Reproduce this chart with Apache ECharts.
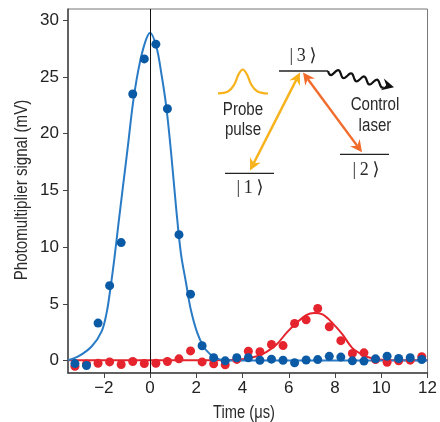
<!DOCTYPE html>
<html>
<head>
<meta charset="utf-8">
<script src="https://cdn.jsdelivr.net/npm/echarts@6/dist/echarts.min.js"></script>
<style>
  html, body { margin: 0; padding: 0; background: #fff; }
  #chart { width: 440px; height: 422px; }
</style>
</head>
<body>
<div id="chart"></div>
<script>
// measured points (time in us, signal in mV)
var times = [-3.25, -2.75, -2.25, -1.75, -1.25, -0.75, -0.25, 0.25, 0.75, 1.25, 1.75, 2.25, 2.75, 3.25, 3.75,
  4.25, 4.75, 5.25, 5.75, 6.25, 6.75, 7.25, 7.75, 8.25, 8.75, 9.25, 9.75, 10.25, 10.75, 11.25, 11.75];
var probeVals = [-0.27, -0.44, 3.3, 6.6, 10.4, 23.5, 26.6, 27.9, 22.2, 11.1, 5.85, 1.3, 0.25, -0.03, 0.24,
  0.24, 0.02, 0.12, 0.02, -0.2, 0.05, 0.08, 0.37, 0.3, -0.03, -0.05, 0.15, 0.38, 0.18, 0.24, 0.09];
var retrievedVals = [-0.5, -0.3, -0.24, -0.12, -0.35, -0.09, -0.26, -0.24, -0.09, 0.15, 0.85, -0.12, -0.28, -0.38, 0.1,
  0.82, 0.77, 1.41, 1.32, 3.27, 3.59, 4.59, 2.97, 1.75, 0.63, 0.68, 0.09, -0.15, -0.03, 0.03, 0.33];

// fitted curves
var probeFitT = [-3.55, -3.09, -2.52, -2.09, -1.88, -1.74, -1.55, -1.38, -1.17, -0.96, -0.74, -0.5, -0.24, 0,
  0.27, 0.48, 0.7, 0.91, 1.12, 1.33, 1.55, 1.76, 2.05, 2.4, 2.83, 3.25, 3.8, 5, 12];
var probeFitV = [0.03, 0.38, 1.26, 2.6, 4.2, 6.0, 8.9, 11.85, 15.4, 18.9, 22.7, 25.7, 27.9, 28.9,
  27.7, 25.4, 22.4, 18.3, 13.6, 9.5, 6.9, 4.5, 2.4, 0.97, 0.24, 0.03, 0, 0, 0];
var retrFitT = [-3.55, 0, 3.2, 4.0, 4.62, 5.04, 5.47, 5.9, 6.33, 6.75, 7.1, 7.46, 7.89, 8.32, 8.74, 9.17, 9.6, 10.2, 11, 12];
var retrFitV = [0.03, 0.03, 0.03, 0.12, 0.38, 0.77, 1.41, 2.44, 3.3, 4.0, 4.2, 4.06, 3.3, 2.3, 1.12, 0.53, 0.2, 0.05, 0.03, 0.03];

var xTicks = [-2, 0, 2, 4, 6, 8, 10, 12];
var yTicks = [0, 5, 10, 15, 20, 25, 30];

function pairs(a, b) {
  var out = [];
  for (var i = 0; i < a.length; i++) out.push([a[i], b[i]]);
  return out;
}

var FONT = "'Liberation Sans', Arial, sans-serif";
var KET = "'Liberation Serif', 'DejaVu Serif', serif";
var BLUE_DOT = '#0b5aa6', BLUE_LINE = '#2a7bc6', RED = '#e5242e';
var YEL = '#f7b21c', ORG = '#f26b2b';

// arrow head as polygon, tip at (x2,y2) pointing from (x1,y1)
function head(x1, y1, x2, y2, color) {
  var dx = x2 - x1, dy = y2 - y1, L = Math.sqrt(dx * dx + dy * dy);
  var ux = dx / L, uy = dy / L, px = -uy, py = ux;
  var len = 12, w = 6, notch = 8;
  return {
    type: 'polygon', z: 10,
    shape: { points: [
      [x2, y2],
      [x2 - ux * len + px * w, y2 - uy * len + py * w],
      [x2 - ux * notch, y2 - uy * notch],
      [x2 - ux * len - px * w, y2 - uy * len - py * w]
    ] },
    style: { fill: color }
  };
}
function dblArrow(x1, y1, x2, y2, color) {
  var dx = x2 - x1, dy = y2 - y1, L = Math.sqrt(dx * dx + dy * dy);
  var ux = dx / L, uy = dy / L;
  return [
    { type: 'line', z: 9, shape: { x1: x1 + ux * 8, y1: y1 + uy * 8, x2: x2 - ux * 8, y2: y2 - uy * 8 },
      style: { stroke: color, lineWidth: 2.4 } },
    head(x2, y2, x1, y1, color),
    head(x1, y1, x2, y2, color)
  ];
}
function wave(x1, y1, x2, y2) {
  var dx = x2 - x1, dy = y2 - y1, L = Math.sqrt(dx * dx + dy * dy);
  var ux = dx / L, uy = dy / L, px = -uy, py = ux;
  var pts = [];
  for (var s = 0; s <= L; s += 1) {
    var a = 3.3 * Math.sin(s / 13.3 * 2 * Math.PI);
    pts.push([x1 + ux * s + px * a, y1 + uy * s + py * a]);
  }
  return pts;
}

// condensed look: squeeze Liberation Sans horizontally
function txt(x, y, s, opts, extra) {
  return Object.assign({
    type: 'text', x: x, y: y, z: 12, scaleX: 0.84,
    style: Object.assign({ text: s, font: '18px ' + FONT, fill: '#2a2a2a', align: 'center', verticalAlign: 'middle' }, opts || {})
  }, extra || {});
}

var graphics = [
  // axis titles
  txt(22, 190, 'Photomultiplier signal (mV)', { font: '18px ' + FONT }, { rotation: Math.PI / 2 }),
  txt(244, 413, 'Time (\u03bcs)', { font: '17.5px ' + FONT }),
  // energy levels
  { type: 'line', shape: { x1: 279, y1: 71, x2: 328, y2: 71 }, style: { stroke: '#222', lineWidth: 1.3 } },
  { type: 'line', shape: { x1: 225, y1: 173.3, x2: 274, y2: 173.3 }, style: { stroke: '#222', lineWidth: 1.3 } },
  { type: 'line', shape: { x1: 340, y1: 154.3, x2: 389, y2: 154.3 }, style: { stroke: '#222', lineWidth: 1.3 } },
  txt(303, 56, '|\u20093\u2009\u27e9', { font: '18px ' + KET }, { scaleX: 1 }),
  txt(250, 188, '|\u20091\u2009\u27e9', { font: '18px ' + KET }, { scaleX: 1 }),
  txt(366, 170, '|\u20092\u2009\u27e9', { font: '18px ' + KET }, { scaleX: 1 }),
  txt(243, 110, 'Probe'),
  txt(243, 130, 'pulse'),
  txt(375, 105, 'Control'),
  txt(375, 126.5, 'laser'),
  // probe pulse sketch
  { type: 'polyline', shape: { smooth: 0.4, points: [[218, 93.3], [228, 91.5], [234, 85], [238.5, 74.5], [242.7, 69.5], [247, 74.5], [251.5, 85], [257.5, 91.5], [268, 93.5]] },
    style: { stroke: YEL, lineWidth: 2.2, fill: null } },
  // spontaneous emission wave
  { type: 'polyline', shape: { points: wave(328, 71, 385, 85) }, style: { stroke: '#111', lineWidth: 2.2, fill: null } },
  head(380, 83.8, 394, 87.3, '#111')
].concat(dblArrow(250, 170.5, 300, 72.5, YEL)).concat(dblArrow(303, 72.5, 362, 152.3, ORG));

var chart = echarts.init(document.getElementById('chart'), null, { renderer: 'canvas' });
chart.setOption({
  animation: false,
  backgroundColor: '#fff',
  textStyle: { fontFamily: FONT },
  grid: { left: 68, right: 7, top: 9, bottom: 49, show: true, borderColor: '#777', borderWidth: 1 },
  xAxis: {
    type: 'value', min: -3.55, max: 12,
    axisLine: { onZero: false, lineStyle: { color: '#444', width: 1.5 } },
    axisTick: { show: true, length: 5, customValues: xTicks, lineStyle: { color: '#444' } },
    axisLabel: { customValues: xTicks, margin: 7, fontSize: 17, color: '#222', fontFamily: FONT,
      formatter: function (v) { return String(v).replace('-', '\u2212'); } },
    splitLine: { show: false }
  },
  yAxis: {
    type: 'value', min: -1.1, max: 31,
    axisLine: { show: true, onZero: false, lineStyle: { color: '#444', width: 1.5 } },
    axisTick: { show: true, length: 5, customValues: yTicks, lineStyle: { color: '#444' } },
    axisLabel: { customValues: yTicks, margin: 9, fontSize: 17, color: '#222', fontFamily: FONT },
    splitLine: { show: false }
  },
  graphic: graphics,
  series: [
    {
      type: 'line', data: pairs(retrFitT, retrFitV), smooth: 0.35, showSymbol: false, z: 2,
      lineStyle: { color: RED, width: 2 },
      markLine: { silent: true, symbol: 'none', label: { show: false },
        lineStyle: { color: '#111', width: 1, type: 'solid' }, data: [{ xAxis: 0 }] }
    },
    {
      type: 'line', data: pairs(probeFitT, probeFitV), smooth: 0.35, showSymbol: false, z: 3,
      lineStyle: { color: BLUE_LINE, width: 2 }
    },
    {
      type: 'scatter', data: pairs(times, retrievedVals), symbolSize: 9, z: 4,
      itemStyle: { color: RED, opacity: 1 }
    },
    {
      type: 'scatter', data: pairs(times, probeVals), symbolSize: 9, z: 5,
      itemStyle: { color: BLUE_DOT, opacity: 1 }
    }
  ]
});
</script>
</body>
</html>
